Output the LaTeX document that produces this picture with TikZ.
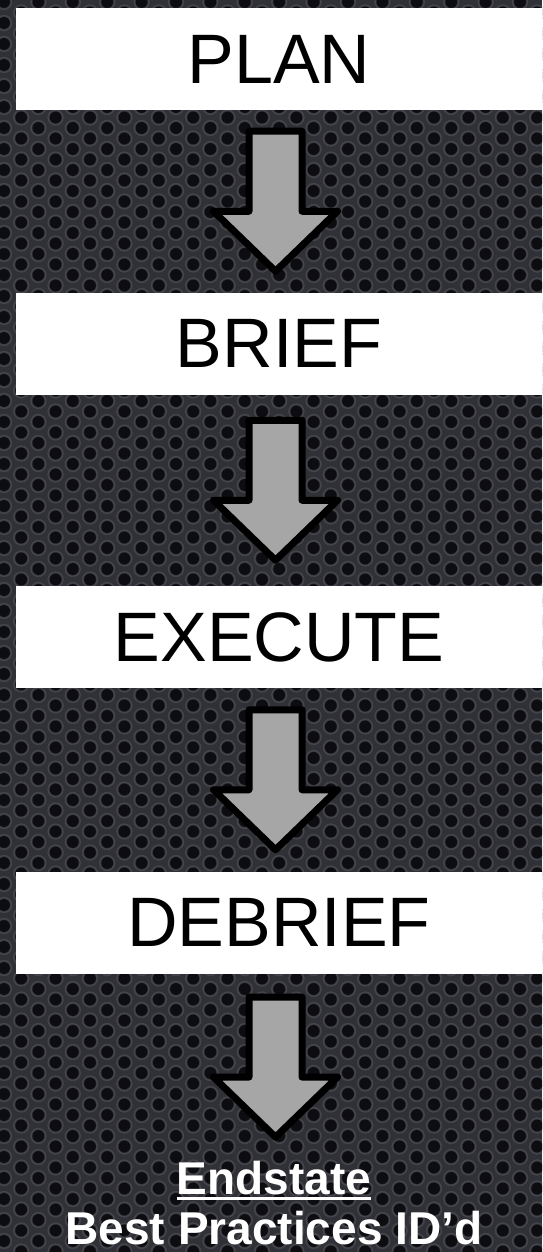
\documentclass[tikz,border=0pt]{standalone}
\usepackage{fontspec}
\setmainfont{Liberation Sans}
\usetikzlibrary{calc}
\definecolor{bgbase}{RGB}{48,49,54}
\definecolor{rimcol}{RGB}{68,69,75}
\definecolor{holecol}{RGB}{12,12,17}
\definecolor{arrowgray}{RGB}{166,166,166}
\tikzset{
  box/.style={rectangle, fill=white, minimum width=526pt, minimum height=102pt,
    inner sep=0pt, font=\fontsize{70}{84}\selectfont, text=black},
  blockarrow/.style={fill=arrowgray, draw=black, line width=7pt, line join=round,
    to path={let \p1=(\tikztostart), \p2=(\tikztotarget), \n1={(\y1+\y2)/2} in
      (\x1-26.5pt,\n1+70pt) -- (\x1+26.5pt,\n1+70pt) -- (\x1+26.5pt,\n1-10pt)
      -- (\x1+62pt,\n1-10pt) -- (\x1,\n1-70pt) -- (\x1-62pt,\n1-10pt)
      -- (\x1-26.5pt,\n1-10pt) -- cycle}},
  endtext/.style={text=white, font=\bfseries\fontsize{46}{55}\selectfont,
    inner sep=0pt, anchor=base}
}
\begin{document}
\begin{tikzpicture}[x=1pt,y=-1pt]
\useasboundingbox (0,0) rectangle (542,1252);
% perforated metal background
\fill[bgbase] (0,0) rectangle (542,1252);
\begin{scope}
\clip (0,0) rectangle (542,1252);
\draw[rimcol, line width=1.5pt] \foreach \c in {0,...,32}{\foreach \r in {0,...,60}{
  ({\c*17.2+4},{\r*21+mod(\c,2)*10.5+2}) circle (7.4pt)}};
\fill[holecol] \foreach \c in {0,...,32}{\foreach \r in {0,...,60}{
  ({\c*17.2+4},{\r*21+mod(\c,2)*10.5+2}) circle (5.9pt)}};
\end{scope}
% boxes
\node[box] (plan) at (279,59) {PLAN\hspace{10pt}};
\node[box] (brief) at (279,343.5) {BRIEF\hspace{10pt}};
\node[box] (execute) at (279,637) {EXECUTE\hspace{10pt}};
\node[box] (debrief) at (279,922.5) {DEBRIEF\hspace{10pt}};
% end state text
\node[endtext] (endstate) at (274,1194) {Endstate};
\node[endtext] (best) at (274,1244) {Best Practices ID’d};
\draw[white, line width=3pt] ([yshift=-4.5pt]endstate.base west) -- ([yshift=-4.5pt]endstate.base east);
% arrows
\draw[blockarrow] ([xshift=-3.5pt]plan.south) to ([xshift=-3.5pt]brief.north);
\draw[blockarrow] ([xshift=-3.5pt]brief.south) to ([xshift=-3.5pt]execute.north);
\draw[blockarrow] ([xshift=-3.5pt]execute.south) to ([xshift=-3.5pt]debrief.north);
\draw[blockarrow] ([xshift=-3.5pt]debrief.south) to (endstate.north);
\end{tikzpicture}
\end{document}
